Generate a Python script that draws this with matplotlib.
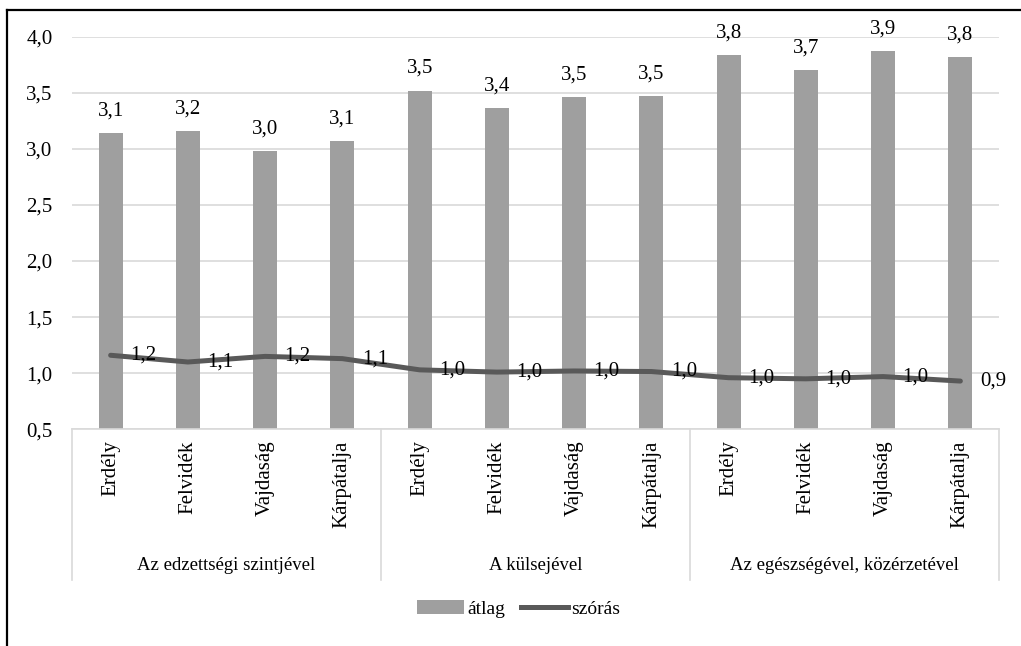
import matplotlib
matplotlib.use("Agg")
import matplotlib.pyplot as plt
from matplotlib.lines import Line2D
from matplotlib.patches import Patch
from matplotlib.ticker import FuncFormatter, MultipleLocator
import matplotlib.transforms as mtransforms

plt.rcParams['font.family'] = ['Liberation Serif', 'DejaVu Serif']

regions = ["Erdély", "Felvidék", "Vajdaság", "Kárpátalja"]
groups = ["Az edzettségi szintjével", "A külsejével", "Az egészségével, közérzetével"]
atlag = [3.14, 3.16, 2.98, 3.07, 3.52, 3.36, 3.46, 3.47, 3.84, 3.70, 3.87, 3.82]
szoras = [1.16, 1.10, 1.15, 1.13, 1.03, 1.01, 1.02, 1.015, 0.96, 0.95, 0.97, 0.93]
atlag_labels = ["3,1", "3,2", "3,0", "3,1", "3,5", "3,4", "3,5", "3,5", "3,8", "3,7", "3,9", "3,8"]
szoras_labels = ["1,2", "1,1", "1,2", "1,1", "1,0", "1,0", "1,0", "1,0", "1,0", "1,0", "1,0", "0,9"]

W, H = 1021, 646
fig = plt.figure(figsize=(W / 100, H / 100), dpi=100)
ax = fig.add_axes([72 / W, 1 - 429.3 / H, (999 - 72) / W, (429.3 - 36.7) / H])

n = len(atlag)
xs = list(range(n))
labels = regions * len(groups)

bar_color = "#9f9f9f"
line_color = "#595959"
grid_color = "#d9d9d9"

ax.bar(xs, atlag, width=0.31, color=bar_color, zorder=2)
ax.plot(xs, szoras, color=line_color, lw=3.6, solid_capstyle="round",
        solid_joinstyle="round", zorder=3)

ax.set_xlim(-0.5, n - 0.5)
ax.set_ylim(0.5, 4.0)
ax.yaxis.set_major_locator(MultipleLocator(0.5))
ax.yaxis.set_major_formatter(FuncFormatter(lambda v, p: f"{v:.1f}".replace(".", ",")))
ax.grid(axis="y", color=grid_color, lw=1.2, zorder=0)
ax.set_axisbelow(True)
for s in ["top", "right", "left"]:
    ax.spines[s].set_visible(False)
ax.spines["bottom"].set_color(grid_color)
ax.spines["bottom"].set_linewidth(1.2)

ax.tick_params(axis="y", length=0, pad=14, labelsize=15)
ax.set_xticks(xs)
ax.set_xticklabels(labels, rotation=90, fontsize=15)
ax.tick_params(axis="x", length=0, pad=8)

for x, v, t in zip(xs, atlag, atlag_labels):
    ax.annotate(t, (x, v), xytext=(0, 9), textcoords="offset points",
                ha="center", va="bottom", fontsize=15)
for x, v, t in zip(xs, szoras, szoras_labels):
    ax.annotate(t, (x, v), xytext=(14, 0), textcoords="offset points",
                ha="left", va="center", fontsize=15, zorder=4)

# category group separators and labels
trans = mtransforms.blended_transform_factory(ax.transData, ax.transAxes)
bottom_frac = -(580 - 429.3) / (429.3 - 36.7)
for g in range(len(groups) + 1):
    xsep = g * 4 - 0.5
    ax.add_line(Line2D([xsep, xsep], [0, bottom_frac], transform=trans,
                       color=grid_color, lw=1.2, clip_on=False))
label_frac = -(566 - 429.3) / (429.3 - 36.7)
for g, name in enumerate(groups):
    ax.text(g * 4 + 1.5, label_frac, name, transform=trans, ha="center",
            va="center", fontsize=13.5)

# legend
handles = [Patch(facecolor=bar_color, edgecolor="none"),
           Line2D([], [], color=line_color, lw=3.6)]
fig.legend(handles, ["átlag", "szórás"], loc="center", bbox_to_anchor=(0.508, 1 - 609 / H),
           ncol=2, frameon=False, fontsize=14, handlelength=2.4, handleheight=0.75,
           handletextpad=0.2, columnspacing=0.8)

# outer frame (top and left edges visible)
fig.add_artist(Line2D([7 / W, 1.0], [1 - 10 / H, 1 - 10 / H], transform=fig.transFigure,
                      color="black", lw=1.6))
fig.add_artist(Line2D([7 / W, 7 / W], [0, 1 - 10 / H], transform=fig.transFigure,
                      color="black", lw=1.6))

fig.savefig("out.png", dpi=100)
